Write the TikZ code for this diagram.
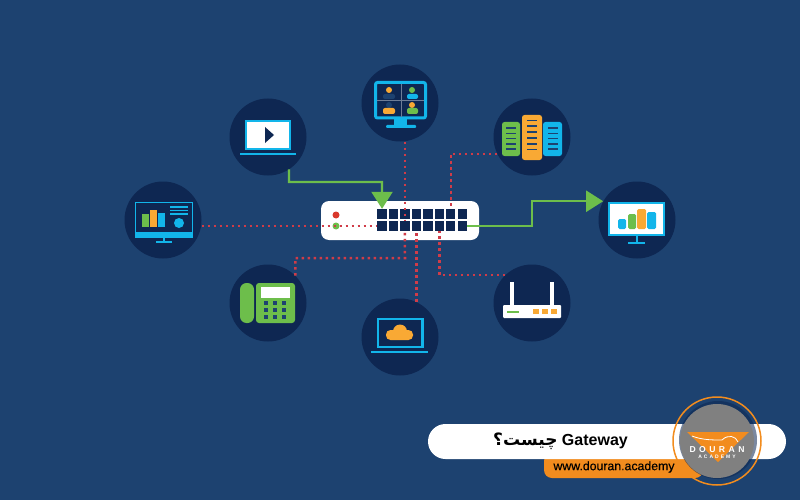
\documentclass[tikz,border=0pt]{standalone}
\usepackage{fontspec}
\setmainfont{Liberation Sans}
\newfontfamily\arabicfont[Script=Arabic]{DejaVu Sans}
\newfontfamily\logofont[LetterSpace=40]{Liberation Sans}
\newfontfamily\urlfont[FakeBold=0.3]{Liberation Sans}
\TeXXeTstate=1
\usetikzlibrary{arrows.meta}
\definecolor{bgblue}{HTML}{1D4270}
\definecolor{discblue}{HTML}{0E2752}
\definecolor{iconcyan}{HTML}{12B5EA}
\definecolor{icongreen}{HTML}{6DBE4B}
\definecolor{iconorange}{HTML}{F9A934}
\definecolor{linkred}{HTML}{D03C48}
\definecolor{ledred}{HTML}{D9382B}
\definecolor{brandorange}{HTML}{F28C1E}
\definecolor{brandgray}{HTML}{808080}
\begin{document}
\begin{tikzpicture}[x=1pt, y=-1pt,
        disc/.style={circle, fill=discblue, minimum size=77pt, inner sep=0pt},
        portbox/.style={fill=discblue, minimum width=9.4pt, minimum height=10pt, inner sep=0pt},
        led/.style={circle, minimum size=7pt, inner sep=0pt},
        redlink/.style={linkred, line width=2.5pt, dash pattern=on 2.5pt off 3.5pt},
        greenlink/.style={icongreen, line width=2.2pt, -{Triangle[length=17pt, width=21pt]}},
        screenline/.style={iconcyan, line width=2.4pt}]
    \fill[bgblue] (0,0) rectangle (800,500);
    \useasboundingbox (0,0) rectangle (800,500);

    \node[disc] (chartL) at (163,220) {};
    \node[disc] (video) at (268,137) {};
    \node[disc] (meeting) at (400,103) {};
    \node[disc] (servers) at (532,137) {};
    \node[disc] (chartR) at (637,220) {};
    \node[disc] (phone) at (268,303) {};
    \node[disc] (cloud) at (400,337) {};
    \node[disc] (router) at (532,303) {};

    % switch
    \node[fill=white, rounded corners=8pt, minimum width=158pt, minimum height=39pt, inner sep=0pt] (switch) at (400,220.5) {};
    \node[led, fill=ledred] (ledA) at (336,215) {};
    \node[led, fill=icongreen] (ledB) at (336,226) {};
    \foreach \c in {1,...,8} {
        \node[portbox] (port-1-\c) at ({370.6+11.45*\c},214) {};
        \node[portbox] (port-2-\c) at ({370.6+11.45*\c},226) {};
    }

    % connectors
    \coordinate (busP) at (405,258);
    \coordinate (vbend) at (382,182);
    \coordinate (rbend) at (chartR.151 -| 532,0);
    \draw[redlink] (chartL.east |- port-2-1) -- (port-2-1);
    \draw[redlink] (port-1-3 |- meeting.south) -- (port-2-3);
    \draw[redlink] (phone.45) |- (busP) -- (port-2-3);
    \draw[redlink] (servers.206) -| (port-1-7);
    \draw[redlink] (port-2-4 |- cloud.66) -- (port-2-4);
    \draw[redlink] (router.134) -| (port-2-6);
    \draw[greenlink] (video.-57) |- (vbend) -- (port-1-1);
    \draw[greenlink] (port-2-8) -| (rbend) -- (chartR.151);

    % chart monitor, left
    \draw[iconcyan, line width=1.2pt] (135.5,202.5) rectangle (192.5,234);
    \fill[iconcyan] (135,232) rectangle (193,238);
    \fill[icongreen] (142,214) rectangle (149,227);
    \fill[iconorange] (150,210) rectangle (157,227);
    \fill[iconcyan] (158,213) rectangle (165,227);
    \foreach \y in {207,210.5,214}
        \draw[iconcyan, line width=1.3pt] (170,\y) -- (188,\y);
    \fill[iconcyan] (179,223) circle (5pt);
    \draw[iconcyan, line width=1.3pt] (164,238) -- (164,242) (156,242) -- (172,242);

    % video laptop
    \draw[iconcyan, fill=white, line width=1.8pt] (246,121) rectangle (290,149);
    \draw[screenline] (240,154) -- (296,154);
    \fill[discblue] (265,127) -- (274,135) -- (265,143) -- cycle;

    % meeting monitor
    \draw[iconcyan, line width=3pt, rounded corners=2pt] (375.5,82.5) rectangle (425.5,118);
    \draw[white!40!discblue, line width=.6pt] (401,84) -- (401,117) (377,100.5) -- (424,100.5);
    \fill[iconcyan] (394,119) rectangle (407,126);
    \fill[iconcyan, rounded corners=1pt] (386,125) rectangle (416,128);
    \fill[iconorange] (389,90) circle (3pt);
    \fill[bgblue, rounded corners=2pt] (383,94) rectangle (395,99);
    \fill[icongreen] (412,90) circle (3pt);
    \fill[iconcyan, rounded corners=2pt] (407,94) rectangle (418,99);
    \fill[bgblue] (389,105) circle (3pt);
    \fill[iconorange, rounded corners=2pt] (383,108) rectangle (395,114);
    \fill[iconorange] (412,105) circle (3pt);
    \fill[icongreen, rounded corners=2pt] (407,108) rectangle (418,114);

    % servers
    \fill[icongreen, rounded corners=2.5pt] (502,122) rectangle (520,156);
    \fill[iconorange, rounded corners=2.5pt] (522,115) rectangle (542,160);
    \fill[iconcyan, rounded corners=2.5pt] (543,122) rectangle (562,156);
    \foreach \y in {128,133.5,138.5,144,149} {
        \draw[bgblue, line width=1.4pt] (506,\y) -- (516,\y);
        \draw[bgblue, line width=1.4pt] (548,\y) -- (558,\y);
    }
    \foreach \y in {120.5,126,132,138,144,149.5}
        \draw[bgblue, line width=1.4pt] (527,\y) -- (537,\y);

    % chart monitor, right
    \draw[iconcyan, fill=white, line width=2pt] (609,203) rectangle (664,235);
    \fill[iconcyan, rounded corners=1.5pt] (618,219) rectangle (626,229);
    \fill[icongreen, rounded corners=1.5pt] (628,214) rectangle (636,229);
    \fill[iconorange, rounded corners=1.5pt] (637,209) rectangle (646,229);
    \fill[iconcyan, rounded corners=1.5pt] (647,212) rectangle (656,229);
    \draw[iconcyan, line width=2pt] (637,236) -- (637,242) (628,242.5) -- (645,242.5);

    % phone
    \fill[icongreen, rounded corners=6.5pt] (240,283) rectangle (254,323);
    \fill[icongreen, rounded corners=3pt] (256,283) rectangle (295,323);
    \fill[white] (261,287) rectangle (290,298);
    \foreach \x in {266,275,284}
        \foreach \y in {303,310,317}
            \fill[bgblue] (\x-2,\y-2) rectangle (\x+2,\y+2);

    % cloud laptop
    \draw[iconcyan, line width=2.2pt] (378,319) rectangle (422.5,347);
    \draw[screenline] (371,352) -- (428,352);
    \fill[iconorange] (400,331.5) circle (7pt);
    \fill[iconorange, rounded corners=4.5pt] (386,330) rectangle (413,340);

    % router
    \fill[white] (510,282) rectangle (514,306);
    \fill[white] (550,282) rectangle (554,306);
    \fill[white, rounded corners=1pt] (503,305) rectangle (561,318);
    \draw[icongreen, line width=1.5pt] (507,312) -- (519,312);
    \foreach \x in {533,542,551}
        \fill[iconorange] (\x,309) rectangle (\x+6,314);

    % title
    \node[fill=brandorange, rounded corners=8pt, minimum width=159pt, minimum height=25pt, inner sep=0pt] (urlbar) at (623.5,465.5) {};
    \node[fill=white, rounded corners=17.5pt, minimum width=358pt, minimum height=35pt, inner sep=0pt] (titlebar) at (607,441.5) {};
    \node[font=\fontsize{16}{18}\selectfont\bfseries] (titletext) at (560.5,441.5) {\beginR\beginL Gateway\endL\ {\arabicfont\fontsize{17}{18}\selectfont چیست؟}\endR};
    \node[font=\fontsize{12.3}{14}\urlfont, text=black] (urltext) at (614,467) {www.douran.academy};

    % logo
    \fill[discblue, opacity=.55] (718,440) circle (39pt);
    \node[circle, fill=brandgray, minimum size=74pt, inner sep=0pt] (badge) at (717,441) {};
    \node[circle, draw=brandorange, line width=1.5pt, minimum size=88pt, inner sep=0pt] (ring) at (717,441) {};
    \fill[brandorange] (687,432) -- (749,432) -- (718,462) -- cycle;
    \draw[white, line width=.8pt] (692,436) .. controls (702,440) and (712,440) .. (722,440) .. controls (728,434) and (736,436) .. (738,442);
    \node[font=\fontsize{8.6}{9}\logofont\bfseries, text=white, inner sep=0pt] (logoA) at (717,449.5) {DOURAN};
    \node[font=\fontsize{5}{6}\logofont\bfseries, text=white, inner sep=0pt] (logoB) at (717,457) {ACADEMY};
\end{tikzpicture}
\end{document}
